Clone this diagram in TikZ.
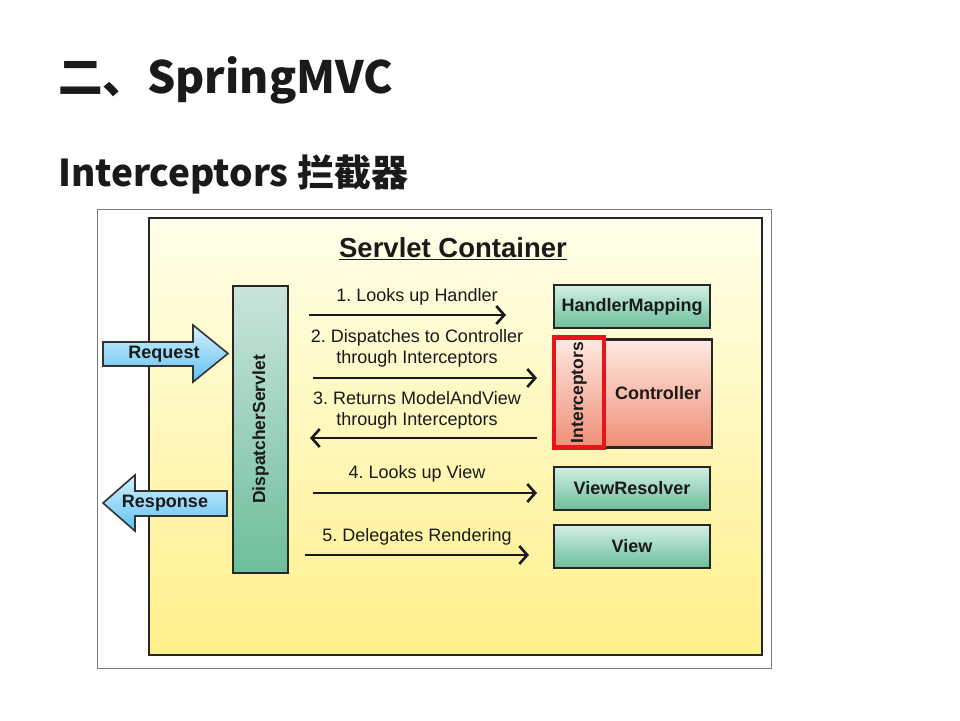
\documentclass[tikz,border=0pt]{standalone}
\usepackage{fontspec}
\setmainfont{Liberation Sans}
\newfontfamily\cjk{Noto Sans CJK SC}
\usetikzlibrary{arrows.meta,calc}
\definecolor{ylTop}{HTML}{FFFEEA}
\definecolor{ylBot}{HTML}{FFF08A}
\definecolor{grTop}{HTML}{D2F0E4}
\definecolor{grBot}{HTML}{6CBE9A}
\definecolor{pkTop}{HTML}{FFEAE2}
\definecolor{pkBot}{HTML}{F08E76}
\definecolor{blTop}{HTML}{D4F2FF}
\definecolor{blBot}{HTML}{5EC0F0}
\definecolor{txt}{HTML}{1A1A1A}
\definecolor{frameGray}{HTML}{7A7A7A}
\definecolor{redbox}{HTML}{E8141C}
\frenchspacing
\begin{document}
\begin{tikzpicture}[x=1pt,y=-1pt,
  comp/.style={draw=black!85, line width=2.5pt, top color=grTop, bottom color=grBot,
    inner sep=0pt, font=\bfseries\fontsize{18}{20}\selectfont, text=txt},
  flow/.style={draw=txt, line width=2.6pt, -{Straight Barb[length=8pt,width=18pt,line width=2.6pt]}},
  lbl/.style={font=\fontsize{18}{21}\selectfont, text=txt, align=center, inner sep=0pt},
  blockarrow/.style={draw=black!80, line width=1.6pt, top color=blTop, bottom color=blBot},
  arrowtext/.style={font=\bfseries\fontsize{18}{20}\selectfont, text=txt, inner sep=0pt},
  vtext/.style={rotate=90, font=\bfseries\fontsize{17.5}{19}\selectfont, text=txt, inner sep=0pt}
]
\useasboundingbox (0,0) rectangle (960,720);
\fill[white] (0,0) rectangle (960,720);

% headings
\node[anchor=base west, inner sep=0pt, font=\cjk\bfseries\fontsize{44.5}{50}\selectfont, text=txt] (title) at (58,93) {二、SpringMVC};
\node[anchor=base west, inner sep=0pt, font=\cjk\bfseries\fontsize{37}{42}\selectfont, text=txt] (subtitle) at (58,186) {Interceptors 拦截器};

% image frame and container
\node[draw=frameGray, line width=1pt, fill=white, minimum width=674pt, minimum height=459pt, inner sep=0pt] (frame) at (434,438.5) {};
\node[draw=black!85, line width=2.5pt, top color=ylTop, bottom color=ylBot, minimum width=613pt, minimum height=437pt, inner sep=0pt] (container) at (455.5,436.5) {};
\node[font=\bfseries\fontsize{27.5}{30}\selectfont, text=txt, inner sep=0pt] (ctitle) at (453,249) {\underline{Servlet Container}};

% DispatcherServlet
\node[comp, minimum width=55pt, minimum height=287pt, top color=grTop!90!gray] (ds) at (260.5,429.5) {};
\node[vtext] (dstext) at (ds.center) {DispatcherServlet};

% right-side components
\node[comp, minimum width=156pt, minimum height=43pt] (hm) at (632,306.5) {HandlerMapping};
\node[comp, minimum width=108pt, minimum height=108pt, top color=pkTop, bottom color=pkBot] (ctrl) at (658,393.5) {Controller};
\node[draw=redbox, line width=4.5pt, top color=pkTop, bottom color=pkBot, minimum width=50pt, minimum height=110pt, inner sep=0pt] (icpt) at (579,392.5) {};
\node[vtext] (icpttext) at (icpt.center) {Interceptors};
\node[comp, minimum width=156pt, minimum height=43pt] (vr) at (632,488.5) {ViewResolver};
\node[comp, minimum width=156pt, minimum height=43pt] (view) at (632,546.5) {View};

% Request / Response block arrows
\path[blockarrow] (103,342) -- (193,342) -- (193,325) -- (228,353.5) -- (193,382) -- (193,366) -- (103,366) -- cycle;
\node[arrowtext] (req) at (164,354) {Request};
\path[blockarrow] (227,491) -- (135,491) -- (135,475) -- (103,503) -- (135,531) -- (135,516) -- (227,516) -- cycle;
\node[arrowtext] (resp) at (165,503) {Response};

% flow labels
\node[lbl] (l1) at (417,297) {1. Looks up Handler};
\node[lbl] (l2) at (417,348) {2. Dispatches to Controller\\through Interceptors};
\node[lbl] (l3) at (417,410) {3. Returns ModelAndView\\through Interceptors};
\node[lbl] (l4) at (417,474) {4. Looks up View};
\node[lbl] (l5) at (417,537) {5. Delegates Rendering};

% flow connectors
\coordinate (a1s) at (309,315); \coordinate (a1e) at (506,315);
\coordinate (a2s) at (313,378); \coordinate (a2e) at (537,378);
\coordinate (a3s) at (537,438); \coordinate (a3e) at (310,438);
\coordinate (a4s) at (313,493); \coordinate (a4e) at (537,493);
\coordinate (a5s) at (305,555); \coordinate (a5e) at (529,555);
\draw[flow] (a1s) -- (a1e);
\draw[flow] (a2s) -- (a2e);
\draw[flow] (a3s) -- (a3e);
\draw[flow] (a4s) -- (a4e);
\draw[flow] (a5s) -- (a5e);
\end{tikzpicture}
\end{document}
